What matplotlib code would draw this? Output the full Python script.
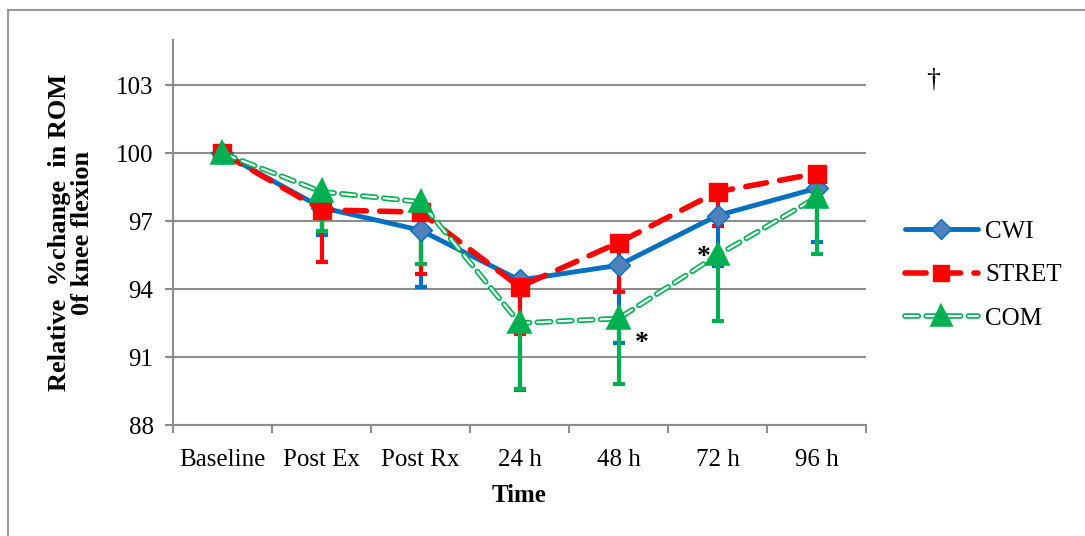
import matplotlib
matplotlib.use("Agg")
import matplotlib.pyplot as plt
import matplotlib.patheffects as pe
from matplotlib.lines import Line2D

plt.rcParams['font.family'] = ['Liberation Serif', 'DejaVu Serif']

times = ["Baseline", "Post Ex", "Post Rx", "24 h", "48 h", "72 h", "96 h"]

cwi = [100, 97.6, 96.6, 94.4, 95.05, 97.25, 98.45]
stret = [100, 97.5, 97.4, 94.1, 96.05, 98.3, 99.1]
com = [100, 98.3, 97.85, 92.5, 92.7, 95.5, 98.05]

# lower end of the (one-sided) error bars
cwi_low = [100, 96.38, 94.09, 89.55, 91.6, 95.0, 96.1]
stret_low = [100, 95.19, 94.66, 92.0, 93.87, 96.8, 98.4]
com_low = [100, 96.56, 95.1, 89.6, 89.8, 92.6, 95.55]

blue = "#0070C0"
red = "#FF0000"
green = "#00B050"
grid_c = "#8c8c8c"

fig = plt.figure(figsize=(10.85, 5.36), dpi=100)
ax = fig.add_axes([173/1085, 1-425/536, (866-173)/1085, (425-40)/536])

x = list(range(len(times)))

def err(vals, low):
    return [[v - l for v, l in zip(vals, low)], [0]*len(vals)]

# error bars
for vals, low, c in [(cwi, cwi_low, blue), (stret, stret_low, red), (com, com_low, green)]:
    ax.errorbar(x[1:], vals[1:], yerr=[e[1:] for e in err(vals, low)], fmt='none',
                ecolor=c, elinewidth=3, capsize=4.5, capthick=3, zorder=3)

ax.plot(x, cwi, color=blue, lw=3.5, marker='D', markersize=11,
        markerfacecolor="#4F81BD", markeredgecolor=blue, markeredgewidth=1,
        solid_capstyle='round', zorder=4, label="CWI")
ax.plot(x, stret, color=red, lw=4, dashes=(3.8, 2.4), dash_capstyle='round',
        marker='s', markersize=13, markerfacecolor=red, markeredgecolor=red,
        zorder=5, label="STRET")
ax.plot(x, com, color="white", lw=1.6, dashes=(6, 3.5), dash_capstyle='round',
        marker='^', markersize=12, markerfacecolor=green, markeredgecolor=green,
        path_effects=[pe.Stroke(linewidth=4, foreground=green), pe.Normal()],
        zorder=6, label="COM")

ax.set_xlim(-0.5, 6.5)
ax.set_ylim(88, 105)
ax.set_yticks([88, 91, 94, 97, 100, 103])
ax.set_xticks(x)
ax.set_xticklabels(times)
ax.set_xticks([i - 0.5 for i in range(8)], minor=True)
ax.tick_params(axis='x', which='major', length=0, labelsize=18, pad=17)
ax.tick_params(axis='x', which='minor', length=6, color=grid_c, width=1.5)
ax.tick_params(axis='y', length=6, color=grid_c, width=1.5, labelsize=18, pad=8)
ax.yaxis.grid(True, color=grid_c, lw=1.5)
ax.set_axisbelow(True)
for s in ['top', 'right']:
    ax.spines[s].set_visible(False)
for s in ['left', 'bottom']:
    ax.spines[s].set_color(grid_c)
    ax.spines[s].set_linewidth(1.5)

ax.set_xlabel("Time", fontsize=18, fontweight='bold', labelpad=10)
ax.set_ylabel("Relative  %change  in ROM\n0f knee flexion", fontsize=19,
              fontweight='bold', labelpad=16, linespacing=1.0)

ax.text(4.24, 91.6, "*", fontsize=20, fontweight='bold', ha='center', va='center')
ax.text(4.86, 95.4, "*", fontsize=20, fontweight='bold', ha='center', va='center')
fig.text(933/1085, 1-80/536, "\u2020", fontsize=20, ha='center', va='center')

fig.legend(loc='center left', bbox_to_anchor=(905/1085, 1-275/536), frameon=False,
           fontsize=18, handlelength=2.9, handletextpad=0.3, labelspacing=0.85,
           borderpad=0, borderaxespad=0, markerscale=0.9)

# outer frame
fig.add_artist(Line2D([8/1085, 8/1085], [0, 1-10/536], transform=fig.transFigure,
                      color="#999999", lw=1.5))
fig.add_artist(Line2D([8/1085, 1], [1-10/536, 1-10/536], transform=fig.transFigure,
                      color="#999999", lw=1.5))

fig.savefig("out.png", dpi=100)
